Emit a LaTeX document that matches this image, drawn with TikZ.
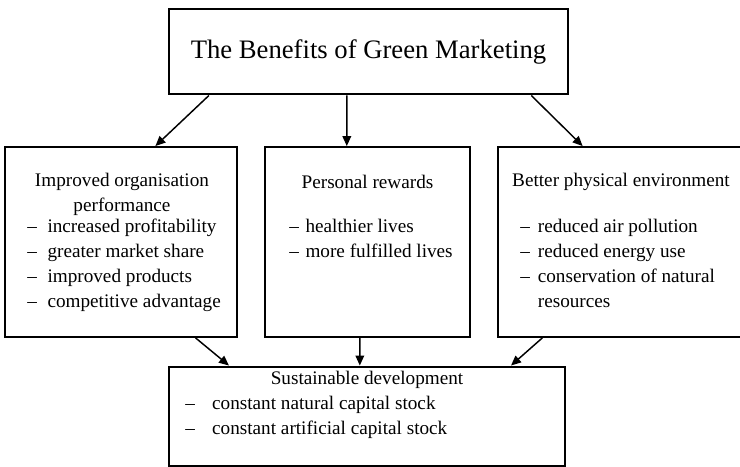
\documentclass[tikz,border=0pt]{standalone}
\usepackage{fontspec}
\setmainfont{Liberation Serif}
\usetikzlibrary{arrows.meta, calc}

\begin{document}
\begin{tikzpicture}[
    x=0.75pt, y=-0.75pt,
    frame/.style={rectangle, draw, line width=1.4pt, minimum height=142.5pt, inner sep=0pt},
    bigframe/.style={rectangle, draw, line width=2.2pt, inner sep=0pt},
    head/.style={font=\fontsize{14.4}{18.75}\selectfont, align=center, inner sep=0pt},
    items/.style={font=\fontsize{14.4}{18.75}\selectfont, anchor=west, inner sep=0pt},
    arr/.style={-{Triangle[length=7.5pt, width=6.5pt]}, line width=1.1pt}
]
\useasboundingbox (0,0) rectangle (740,467);

% Title
\node[bigframe, minimum width=299.25pt, minimum height=63.75pt] (top) at (368.5,51.5) {};
\node[font=\fontsize{20}{24}\selectfont, inner sep=0pt] (title) at (368.5,52) {The Benefits of Green Marketing};

% Three benefit boxes
\node[frame, minimum width=174pt] (org) at (121,242) {};
\node[frame, minimum width=153.75pt] (pers) at (367.5,242) {};
\node[frame, minimum width=183pt] (env) at (620,242) {};

\node[head] (orghead) at (122,194.5) {Improved organisation\\performance};
\node[head] (pershead) at (367.5,182) {Personal rewards};
\node[head] (envhead) at (621,182) {Better physical environment};

\node[items] (orglist) at (27,265) {\begin{tabular}{@{}l@{\hspace{8pt}}l@{}}
  -- & increased profitability\\
  -- & greater market share\\
  -- & improved products\\
  -- & competitive advantage
\end{tabular}};
\node[items] (perslist) at (289,240) {\begin{tabular}{@{}l@{\hspace{5pt}}l@{}}
  -- & healthier lives\\
  -- & more fulfilled lives
\end{tabular}};
\node[items] (envlist) at (520,265) {\begin{tabular}{@{}l@{\hspace{6pt}}l@{}}
  -- & reduced air pollution\\
  -- & reduced energy use\\
  -- & conservation of natural\\
     & resources
\end{tabular}};

% Outcome
\node[bigframe, minimum width=297pt, minimum height=74.25pt] (sust) at (367,416.5) {};
\node[head] (susthead) at (367,380) {Sustainable development};
\node[items] (sustlist) at (185,417) {\begin{tabular}{@{}l@{\hspace{13pt}}l@{}}
  -- & constant natural capital stock\\
  -- & constant artificial capital stock
\end{tabular}};

% Arrows
\draw[arr] ($(top.south west)!0.103!(top.south east)$) -- ($(org.north west)!0.647!(org.north east)$);
\draw[arr] ($(top.south west)!0.446!(top.south east)$) -- ($(pers.north west)!0.4!(pers.north east)$);
\draw[arr] ($(top.south west)!0.905!(top.south east)$) -- ($(env.north west)!0.348!(env.north east)$);

\draw[arr] ($(org.south west)!0.819!(org.south east)$) -- ($(sust.north west)!0.154!(sust.north east)$);
\draw[arr] ($(pers.south west)!0.463!(pers.south east)$) -- ($(sust.north west)!0.482!(sust.north east)$);
\draw[arr] ($(env.south west)!0.184!(env.south east)$) -- ($(sust.north west)!0.861!(sust.north east)$);
\end{tikzpicture}
\end{document}
